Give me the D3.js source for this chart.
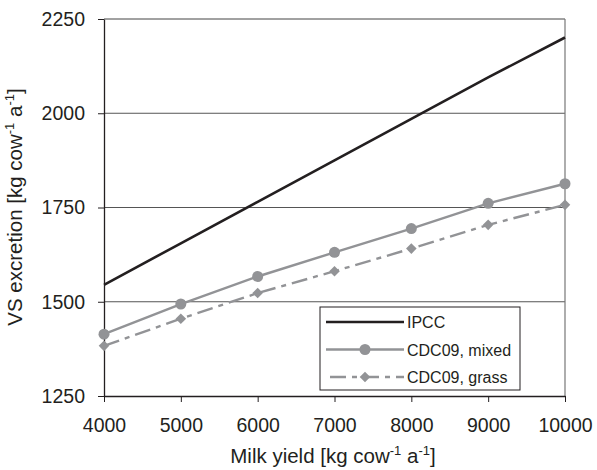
<!DOCTYPE html>
<html>
<head>
<meta charset="utf-8">
<script src="https://cdn.jsdelivr.net/npm/d3@7"></script>
<style>
  html, body { margin: 0; padding: 0; background: #fff; }
  svg { display: block; font-family: "Liberation Sans", Arial, sans-serif; }
</style>
</head>
<body>
<svg id="chart" width="597" height="470"></svg>
<script>
// Milk yield (kg per cow per year)
const milkYield = [4000, 5000, 6000, 7000, 8000, 9000, 10000];
// VS excretion (kg per cow per year)
const ipcc = [1545, 1655, 1765, 1875, 1985, 2095, 2201];
const cdcMixed = [1414, 1494, 1567, 1631, 1694, 1761, 1813];
const cdcGrass = [1383, 1455, 1523, 1581, 1641, 1704, 1757];
const xTicks = [4000, 5000, 6000, 7000, 8000, 9000, 10000];
const yTicks = [1250, 1500, 1750, 2000, 2250];
const seriesNames = ["IPCC", "CDC09, mixed", "CDC09, grass"];

const margin = { left: 104, right: 32, top: 19, bottom: 74 };
const W = 597, H = 470;
const svg = d3.select("#chart");

const x = d3.scaleLinear().domain([4000, 10000]).range([margin.left, W - margin.right]);
const y = d3.scaleLinear().domain([1250, 2250]).range([H - margin.bottom, margin.top]);

const grey = "#929396";
const dark = "#231f20";
const tickFont = "19.5px";
const titleFont = "20.5px";

// horizontal gridlines
svg.append("g")
  .selectAll("line")
  .data(yTicks.slice(1, -1))
  .join("line")
  .attr("x1", x(4000)).attr("x2", x(10000))
  .attr("y1", d => y(d)).attr("y2", d => y(d))
  .attr("stroke", "#555").attr("stroke-width", 1);

// plot frame: top and right
svg.append("line").attr("x1", x(4000)).attr("x2", x(10000))
  .attr("y1", y(2250)).attr("y2", y(2250)).attr("stroke", "#444").attr("stroke-width", 1);
svg.append("line").attr("x1", x(10000)).attr("x2", x(10000))
  .attr("y1", y(2250)).attr("y2", y(1250)).attr("stroke", "#777").attr("stroke-width", 1.2);

// axes
const xAxis = svg.append("g")
  .attr("transform", `translate(0,${y(1250)})`)
  .call(d3.axisBottom(x).tickValues(xTicks).tickFormat(d3.format("d")).tickSizeInner(6).tickSizeOuter(0).tickPadding(16));
const yAxis = svg.append("g")
  .attr("transform", `translate(${x(4000)},0)`)
  .call(d3.axisLeft(y).tickValues(yTicks).tickFormat(d3.format("d")).tickSizeInner(6).tickSizeOuter(0).tickPadding(13));
[xAxis, yAxis].forEach(g => {
  g.select(".domain").attr("stroke", dark).attr("stroke-width", 1.3);
  g.selectAll(".tick line").attr("stroke", dark).attr("stroke-width", 1);
  g.selectAll(".tick text").attr("fill", dark).style("font-size", tickFont)
    .style("font-family", "'Liberation Sans', Arial, sans-serif");
});

// series
const line = d3.line().x(d => x(d[0])).y(d => y(d[1]));
const pts = vals => milkYield.map((m, i) => [m, vals[i]]);

svg.append("path").datum(pts(ipcc)).attr("d", line)
  .attr("fill", "none").attr("stroke", dark).attr("stroke-width", 2.6);

svg.append("path").datum(pts(cdcMixed)).attr("d", line)
  .attr("fill", "none").attr("stroke", grey).attr("stroke-width", 2.4);
svg.append("path").datum(pts(cdcGrass)).attr("d", line)
  .attr("fill", "none").attr("stroke", grey).attr("stroke-width", 2.4)
  .attr("stroke-dasharray", "16,6,5,6");

const circle = d3.symbol().type(d3.symbolCircle).size(95);
const square = d3.symbol().type(d3.symbolSquare).size(56);
svg.append("g").selectAll("path").data(pts(cdcMixed)).join("path")
  .attr("d", circle).attr("transform", d => `translate(${x(d[0])},${y(d[1])})`)
  .attr("fill", grey);
svg.append("g").selectAll("path").data(pts(cdcGrass)).join("path")
  .attr("d", square).attr("transform", d => `translate(${x(d[0])},${y(d[1])}) rotate(45)`)
  .attr("fill", grey);

// legend
const lg = svg.append("g").attr("transform", "translate(320,307)");
lg.append("rect").attr("width", 200).attr("height", 83)
  .attr("fill", "#fff").attr("stroke", dark).attr("stroke-width", 1);
const rowY = [15, 42.5, 70];
const styles = [
  { stroke: dark, width: 2.6, dash: null, marker: null },
  { stroke: grey, width: 2.4, dash: null, marker: "circle" },
  { stroke: grey, width: 2.4, dash: "16,6,5,6", marker: "diamond" }
];
seriesNames.forEach((name, i) => {
  const s = styles[i];
  const row = lg.append("g").attr("transform", `translate(0,${rowY[i]})`);
  const l = row.append("line").attr("x1", 6).attr("x2", 84).attr("y1", 0).attr("y2", 0)
    .attr("stroke", s.stroke).attr("stroke-width", s.width);
  if (s.dash) l.attr("stroke-dasharray", s.dash).attr("stroke-dashoffset", -4);
  if (s.marker === "circle") row.append("path").attr("d", circle).attr("transform", "translate(45,0)").attr("fill", grey);
  if (s.marker === "diamond") row.append("path").attr("d", square).attr("transform", "translate(45,0) rotate(45)").attr("fill", grey);
  row.append("text").attr("x", 87).attr("y", 6).text(name)
    .attr("fill", dark).style("font-size", "16px");
});

// axis titles
const xt = svg.append("text").attr("x", 333).attr("y", 463).attr("text-anchor", "middle")
  .attr("fill", dark).style("font-size", titleFont);
xt.append("tspan").text("Milk yield [kg cow");
xt.append("tspan").attr("dy", -8).style("font-size", "13px").text("-1");
xt.append("tspan").attr("dy", 8).text(" a");
xt.append("tspan").attr("dy", -8).style("font-size", "13px").text("-1");
xt.append("tspan").attr("dy", 8).text("]");

const yt = svg.append("text").attr("transform", "translate(22,207) rotate(-90)")
  .attr("text-anchor", "middle").attr("fill", dark).style("font-size", titleFont);
yt.append("tspan").text("VS excretion [kg cow");
yt.append("tspan").attr("dy", -8).style("font-size", "13px").text("-1");
yt.append("tspan").attr("dy", 8).text(" a");
yt.append("tspan").attr("dy", -8).style("font-size", "13px").text("-1");
yt.append("tspan").attr("dy", 8).text("]");
</script>
</body>
</html>
